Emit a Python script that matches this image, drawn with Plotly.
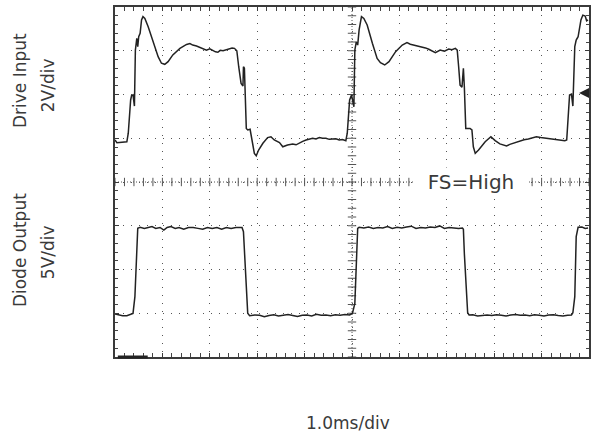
import numpy as np
import plotly.graph_objects as go

# Time base: 1.0 ms/div, 10 divisions across the screen
# Channel 1: drive input (2 V/div); channel 2: diode output (5 V/div)

drive_t = [0.00, 0.04, 0.25, 0.28, 0.33, 0.35, 0.38, 0.41, 0.43, 0.46, 0.48, 0.50,
           0.53, 0.56, 0.59, 0.63, 0.70, 0.80, 0.91, 0.98, 1.05, 1.12, 1.22, 1.37,
           1.51, 1.58, 1.64, 1.72, 1.79, 1.86, 1.93, 2.00, 2.07, 2.12, 2.17, 2.22,
           2.28, 2.35, 2.42, 2.47, 2.52, 2.57, 2.61, 2.66, 2.70, 2.71, 2.73, 2.75,
           2.77, 2.80, 2.85, 2.89, 2.94, 2.98, 3.03, 3.12, 3.22, 3.29, 3.36, 3.47,
           3.54, 3.64, 3.75, 3.82, 3.89, 3.96, 4.03, 4.10, 4.17, 4.24, 4.31, 4.38,
           4.45, 4.52, 4.59, 4.66, 4.73, 4.80, 4.87, 4.90, 4.95, 4.99, 5.04, 5.06,
           5.09, 5.12, 5.15, 5.20, 5.25, 5.32, 5.43, 5.53, 5.60, 5.69, 5.78, 5.92,
           6.06, 6.16, 6.23, 6.30, 6.39, 6.48, 6.55, 6.62, 6.69, 6.76, 6.86, 6.95,
           7.04, 7.11, 7.18, 7.22, 7.25, 7.28, 7.32, 7.35, 7.37, 7.40, 7.49, 7.53,
           7.56, 7.60, 7.67, 7.81, 7.93, 8.02, 8.12, 8.19, 8.26, 8.33, 8.40, 8.47,
           8.54, 8.63, 8.72, 8.80, 8.89, 8.98, 9.07, 9.17, 9.28, 9.38, 9.49, 9.53,
           9.56, 9.59, 9.63, 9.66, 9.70, 9.73, 9.77, 9.83, 9.87, 9.92, 9.95, 9.98]
drive_v = [1.92, 1.80, 1.84, 2.23, 3.75, 3.95, 3.98, 3.47, 6.03, 6.57, 6.19, 6.64,
           6.80, 7.41, 7.56, 7.48, 7.10, 6.41, 5.73, 5.43, 5.38, 5.50, 5.81, 6.11,
           6.29, 6.33, 6.26, 6.22, 6.16, 6.10, 6.03, 6.09, 5.99, 5.95, 5.93, 6.02,
           6.00, 6.04, 6.07, 6.13, 6.11, 6.00, 5.27, 4.51, 4.39, 5.27, 5.20, 3.90,
           2.45, 2.38, 2.41, 1.92, 1.31, 1.20, 1.46, 1.77, 2.03, 2.07, 1.92, 1.80,
           1.61, 1.69, 1.74, 1.70, 1.80, 1.86, 1.92, 1.96, 2.00, 1.97, 2.03, 2.00,
           2.00, 1.95, 1.95, 1.98, 1.92, 1.94, 1.89, 2.23, 3.75, 3.98, 3.44, 6.03,
           6.41, 6.26, 6.95, 7.56, 7.48, 7.18, 6.34, 5.65, 5.45, 5.35, 5.50, 5.96,
           6.26, 6.37, 6.30, 6.26, 6.22, 6.19, 6.13, 6.07, 6.00, 5.91, 6.03, 5.98,
           6.08, 6.05, 6.11, 6.03, 5.27, 4.43, 4.33, 5.20, 4.36, 2.45, 2.45, 2.38,
           1.61, 1.31, 1.46, 1.84, 2.07, 1.89, 1.74, 1.68, 1.65, 1.72, 1.77, 1.82,
           1.89, 1.93, 1.97, 2.02, 2.07, 2.03, 2.00, 1.97, 1.95, 1.92, 1.89, 1.92,
           2.99, 3.98, 4.02, 3.47, 6.19, 6.49, 6.64, 7.41, 7.63, 7.59, 7.37, 7.41]

diode_t = [0.00, 0.08, 0.16, 0.25, 0.38, 0.42, 0.46, 0.48, 0.53, 0.62, 0.70, 0.78,
           0.86, 0.95, 1.03, 1.10, 1.18, 1.27, 1.35, 1.45, 1.55, 1.65, 1.75, 1.85,
           1.95, 2.05, 2.15, 2.25, 2.35, 2.45, 2.55, 2.68, 2.71, 2.74, 2.77, 2.80,
           2.84, 2.95, 3.05, 3.15, 3.25, 3.35, 3.45, 3.55, 3.65, 3.75, 3.85, 3.95,
           4.05, 4.15, 4.25, 4.35, 4.45, 4.55, 4.65, 4.75, 4.85, 4.95, 5.01, 5.06,
           5.09, 5.12, 5.15, 5.25, 5.35, 5.45, 5.55, 5.65, 5.75, 5.85, 5.95, 6.05,
           6.15, 6.25, 6.35, 6.45, 6.55, 6.65, 6.75, 6.85, 6.95, 7.05, 7.15, 7.25,
           7.33, 7.35, 7.37, 7.41, 7.44, 7.47, 7.55, 7.65, 7.75, 7.85, 7.95, 8.05,
           8.15, 8.25, 8.35, 8.45, 8.55, 8.65, 8.75, 8.85, 8.95, 9.05, 9.15, 9.25,
           9.35, 9.45, 9.55, 9.63, 9.66, 9.70, 9.73, 9.77, 9.85, 9.92, 9.98]
diode_v = [4.91, 4.80, 4.72, 4.72, 4.99, 6.89, 12.61, 14.71, 14.82, 14.70, 14.80, 14.90,
           14.70, 14.80, 14.50, 14.80, 14.90, 14.70, 14.80, 14.60, 14.80, 14.80, 14.70, 14.60,
           14.80, 14.70, 14.80, 14.60, 14.80, 14.70, 14.80, 14.80, 14.32, 11.09, 6.89, 4.99,
           4.72, 4.80, 4.76, 4.60, 4.75, 4.82, 4.70, 4.78, 4.85, 4.74, 4.62, 4.78,
           4.80, 4.70, 4.88, 4.76, 4.80, 4.72, 4.82, 4.78, 4.85, 4.80, 5.00, 6.13,
           9.94, 14.71, 14.82, 14.75, 14.85, 14.70, 14.80, 14.75, 14.90, 14.70, 14.82, 14.75,
           14.85, 14.95, 14.70, 14.80, 14.75, 14.85, 14.80, 14.98, 14.70, 14.80, 14.75, 14.70,
           14.75, 14.60, 11.85, 8.04, 5.06, 4.80, 4.82, 4.70, 4.78, 4.80, 4.74, 4.82,
           4.78, 4.70, 4.80, 4.85, 4.76, 4.80, 4.72, 4.84, 4.78, 4.70, 4.80, 4.82,
           4.74, 4.70, 4.78, 4.80, 5.06, 6.89, 13.75, 14.82, 14.85, 14.70, 14.75]

TRACE = "#222222"
INK = "#3a3a3a"
FONT = "DejaVu Sans"

fig = go.Figure()

# graticule centre lines with 0.2-div tick marks
tick_x = np.round(np.arange(0, 10.001, 0.2), 3)
tick_y = np.round(np.arange(-8, 8.001, 0.4), 3)
fig.add_trace(go.Scatter(
    x=tick_x, y=np.zeros_like(tick_x), mode="markers",
    marker=dict(symbol="line-ns", size=6, line=dict(color="#555", width=1)),
    hoverinfo="skip", showlegend=False))
fig.add_trace(go.Scatter(
    x=np.full_like(tick_y, 5.0), y=tick_y, mode="markers",
    marker=dict(symbol="line-ew", size=6, line=dict(color="#555", width=1)),
    hoverinfo="skip", showlegend=False))

fig.add_trace(go.Scatter(x=drive_t, y=drive_v, mode="lines",
                         line=dict(color=TRACE, width=1.5),
                         name="Drive Input", showlegend=False))
fig.add_trace(go.Scatter(x=diode_t, y=diode_v, mode="lines", yaxis="y2",
                         line=dict(color=TRACE, width=1.5),
                         name="Diode Output", showlegend=False))

fig.add_shape(type="line", xref="x", yref="y", x0=0, x1=10, y0=0, y1=0,
              line=dict(color="#555", width=1, dash="1px,2px"), layer="below")
fig.add_shape(type="line", xref="x", yref="y", x0=5, x1=5, y0=-8, y1=8,
              line=dict(color="#555", width=1, dash="1px,2px"), layer="below")
# channel 2 ground marker on the bottom edge
fig.add_shape(type="line", xref="x", yref="paper", x0=0.06, x1=0.69, y0=0, y1=0,
              line=dict(color="#222", width=3))

grid = dict(showgrid=True, gridcolor="#555", gridwidth=1, griddash="1px,7px",
            showline=True, linecolor=INK, linewidth=2, mirror="allticks",
            ticks="inside", ticklen=4, tickcolor=INK, tickwidth=1,
            showticklabels=False, zeroline=False, fixedrange=True)

label_font = dict(family=FONT, size=17, color=INK)


def side_label(text, x, y):
    return dict(text=text, x=x, y=y, xref="paper", yref="paper",
                xanchor="center", yanchor="middle", textangle=-90,
                showarrow=False, font=label_font)


fig.update_layout(
    width=594, height=443,
    margin=dict(l=115, r=3, t=7, b=86),
    paper_bgcolor="white", plot_bgcolor="white",
    xaxis=dict(range=[0, 10], dtick=1, tick0=0,
               minor=dict(dtick=0.2, ticks="inside", ticklen=3, tickcolor="#444", showgrid=False),
               **grid),
    yaxis=dict(range=[-8, 8], dtick=2, tick0=0,
               minor=dict(dtick=0.4, ticks="inside", ticklen=3, tickcolor="#444", showgrid=False),
               **grid),
    yaxis2=dict(range=[0, 40], overlaying="y", visible=False, fixedrange=True),
    annotations=[
        dict(text="FS=High", x=7.52, y=0, xref="x", yref="y", showarrow=False,
             bgcolor="white", width=110, height=26,
             font=dict(family=FONT, size=20, color=INK)),
        # trigger level marker
        dict(text="", x=9.79, y=4.07, xref="x", yref="y", showarrow=True,
             ax=10, ay=0, arrowhead=2, arrowsize=1, arrowwidth=2, arrowcolor="#222"),
        side_label("Drive Input", -0.200, 0.789),
        side_label("2V/div", -0.141, 0.777),
        side_label("Diode Output", -0.200, 0.306),
        side_label("5V/div", -0.141, 0.300),
        dict(text="1.0ms/div", x=0.492, y=-0.189, xref="paper", yref="paper",
             xanchor="center", yanchor="middle",
             showarrow=False, font=dict(family=FONT, size=17, color=INK)),
    ],
)

fig.write_html("out.html")
